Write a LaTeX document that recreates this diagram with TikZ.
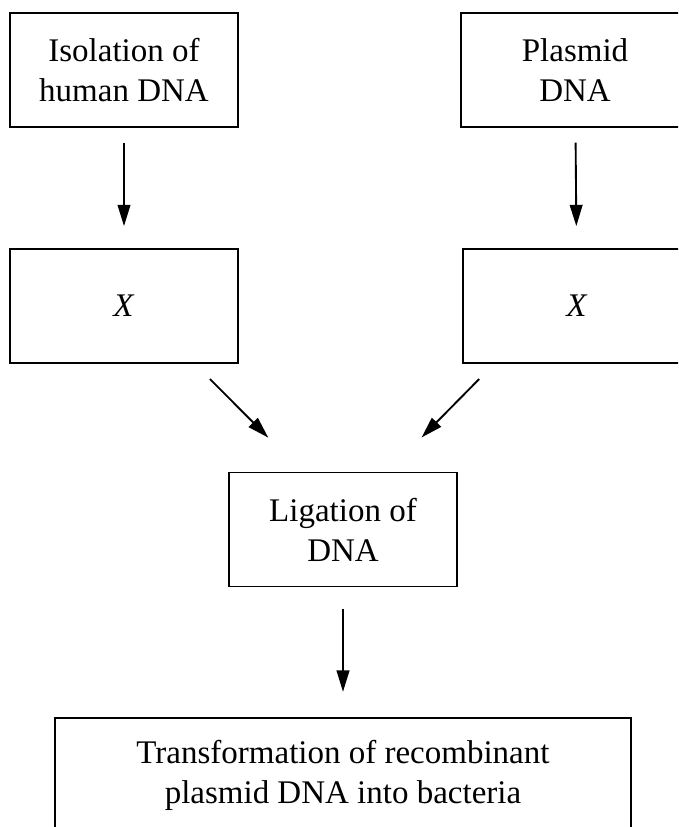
\documentclass[tikz,border=0pt]{standalone}
\usepackage{fontspec}
\setmainfont{Liberation Serif}
\usetikzlibrary{arrows.meta}

\begin{document}
\begin{tikzpicture}
  [x=0.75pt,y=0.75pt,
   every node/.style={draw,line width=1.3pt,align=center,
     minimum width=171pt,minimum height=85.5pt,
     font=\fontsize{24.75}{30}\selectfont},
   arr/.style={line width=1.4pt,-{Triangle[length=16pt,width=9.5pt]}}]
  \clip (0,0) rectangle (678,-827);

  \node (iso) at (124,-70)      {Isolation of\\human DNA};
  \node (pla) at (575,-70)      {Plasmid\\DNA};
  \node (x1) at (124,-306)      {\textit{X}};
  \node (x2) at (577,-306)      {\textit{X}};
  \node (lig) at (343,-529.5)   {Ligation of\\DNA};
  \node[minimum width=432pt] (tra) at (343,-775)
    {Transformation of recombinant\\plasmid DNA into bacteria};

  \foreach \from/\to in {iso/x1,pla/x2}
    \draw[arr,shorten <=11pt,shorten >=16.5pt] (\from) -- (\to);
  \draw[arr,shorten <=16pt,shorten >=36pt]
    ([shift={(-44,0)}]x1.south east) -- ([shift={(74,0)}]lig.north west);
  \draw[arr,shorten <=16pt,shorten >=36pt]
    ([shift={(32,0)}]x2.south west) -- ([shift={(-70,0)}]lig.north east);
  \draw[arr,shorten <=16pt,shorten >=19pt] (lig) -- (tra);
\end{tikzpicture}
\end{document}
